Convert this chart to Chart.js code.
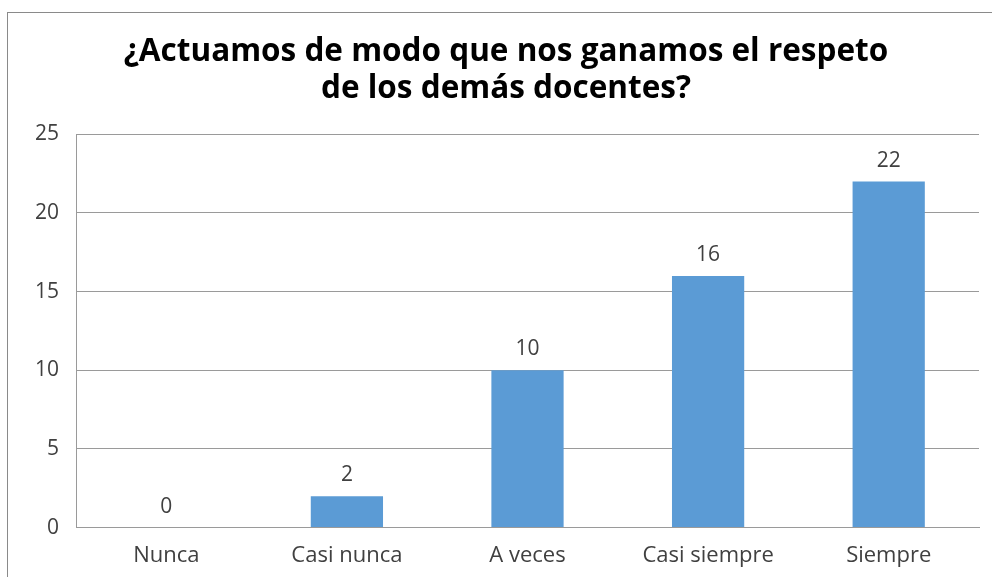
<!DOCTYPE html>
<html>
<head>
<meta charset="utf-8">
<script src="https://cdn.jsdelivr.net/npm/chart.js@4/dist/chart.umd.min.js"></script>
<style>
  html, body { margin: 0; padding: 0; background: #fff; overflow: hidden; }
  #frame { position: absolute; left: 7px; top: 12px; width: 1000px; height: 620px; border: 1px solid #8a8a8a; background: #fff; }
  #frame canvas { position: absolute; left: 0; top: 0; }
</style>
</head>
<body>
<div id="frame"><canvas id="chart1" width="1000" height="585"></canvas></div>
<script>
var categories = ["Nunca", "Casi nunca", "A veces", "Casi siempre", "Siempre"];
var values = [0, 2, 10, 16, 22];
var yTicks = [0, 5, 10, 15, 20, 25];

// labels above each bar
var barLabels = {
    id: 'barLabels',
    afterDatasetsDraw: function(chart) {
        var ctx = chart.ctx;
        var meta = chart.getDatasetMeta(0);
        ctx.save();
        ctx.font = '21px "Open Sans", sans-serif';
        ctx.fillStyle = '#404040';
        ctx.textAlign = 'center';
        ctx.textBaseline = 'middle';
        meta.data.forEach(function(bar, i) {
            ctx.fillText(values[i], bar.x, bar.y - 21);
        });
        ctx.restore();
    }
};

var ctx1 = document.getElementById("chart1").getContext("2d");
var myChart1 = new Chart(ctx1, {
    type: 'bar',
    data: {
        labels: categories,
        datasets: [{
            data: values,
            backgroundColor: '#5b9bd5',
            borderWidth: 0
        }]
    },
    options: {
        responsive: false,
        animation: false,
        layout: {
            padding: { left: 25, right: 29, top: 14, bottom: 14 }
        },
        scales: {
            x: {
                grid: { display: false, drawTicks: false },
                border: { color: '#9a9a9a' },
                ticks: {
                    color: '#404040',
                    padding: 15,
                    font: { family: '"Open Sans", sans-serif', size: 22 }
                }
            },
            y: {
                min: 0,
                max: 25,
                afterFit: function(scale) { scale.width = 43; },
                afterBuildTicks: function(scale) {
                    scale.ticks = yTicks.map(function(v) { return { value: v }; });
                },
                grid: { color: '#9a9a9a', drawTicks: false },
                border: { color: '#9a9a9a' },
                ticks: {
                    color: '#404040',
                    padding: 17,
                    font: { family: '"Open Sans", sans-serif', size: 21 }
                }
            }
        },
        plugins: {
            legend: { display: false },
            tooltip: { enabled: false },
            title: {
                display: true,
                text: ['¿Actuamos de modo que nos ganamos el respeto', 'de los demás docentes?'],
                color: '#000',
                font: { family: '"Open Sans", sans-serif', size: 31.5, weight: 'bold', lineHeight: 1.18 },
                padding: { top: 6, bottom: 27 }
            }
        },
        barPercentage: 0.4,
        categoryPercentage: 1.0
    },
    plugins: [barLabels]
});
</script>
</body>
</html>
